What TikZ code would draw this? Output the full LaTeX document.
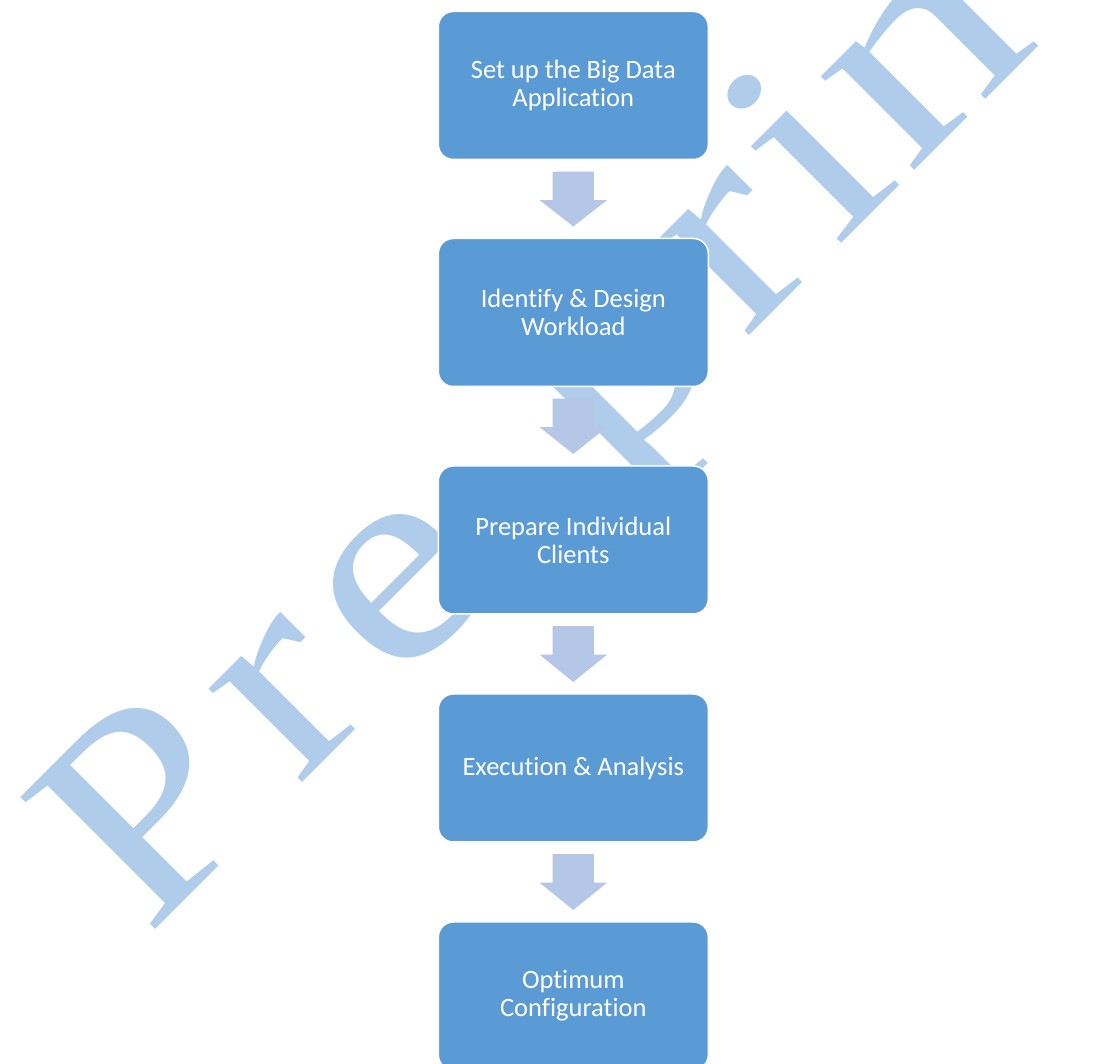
\documentclass[tikz,border=0pt]{standalone}
\usepackage{fontspec}
\setmainfont{Carlito}[Ligatures={NoCommon}]
\newfontfamily\wmfont{Liberation Serif}
\usetikzlibrary{calc}
\definecolor{boxblue}{HTML}{5B9BD5}
\definecolor{arrowblue}{HTML}{B4C7E7}
\definecolor{wmblue}{HTML}{AFCDEA}
\tikzset{
  stepbox/.style={rectangle, rounded corners=15pt, fill=boxblue, draw=white,
    line width=1.5pt, minimum width=270pt, minimum height=148pt, text=white,
    align=center, inner sep=0pt, font=\fontsize{26.5}{28}\selectfont},
  flowarrow/.style={fill=arrowblue},
  wmletter/.style={anchor=base west, inner sep=0pt, outer sep=0pt, text=wmblue,
    font=\wmfont\fontsize{288}{288}\selectfont},
}
% widened glyph for the diagonal lettering
\newcommand\wmglyph[2]{\scalebox{#1}[1]{#2}}
% block arrow from the bottom of one box to the top of the next
\newcommand\blockarrow[2]{%
  \fill[flowarrow]
    ($(#1.south)+(-20.6,-11.4)$) -- ($(#1.south)+(20.6,-11.4)$)
    -- ($(#1.south)+(20.6,-40)$) -- ($(#1.south)+(33.6,-40)$)
    -- ($(#2.north)+(0,11.3)$)
    -- ($(#1.south)+(-33.6,-40)$) -- ($(#1.south)+(-20.6,-40)$) -- cycle;}

\begin{document}
\begin{tikzpicture}[x=1pt,y=1pt]
\useasboundingbox (0,0) rectangle (1097,1064);
\fill[white] (0,0) rectangle (1097,1064);
\clip (0,0) rectangle (1097,1064);

% diagonal lettering in the background
\begin{scope}[shift={(542.5,521.5)}, rotate=45, transform shape]
  \node[wmletter] (w1) at (-558,0) {\wmglyph{1.13}{P}};
  \node[wmletter] (w2) at (-346,0) {\wmglyph{1.2}{r}};
  \node[wmletter] (w3) at (-208,0) {\wmglyph{1.2}{e}};
  \node[wmletter] (w4) at (92,0)   {\wmglyph{1.2}{p}};
  \node[wmletter] (w5) at (286,0)  {\wmglyph{1.2}{r}};
  \node[wmletter] (w6) at (416,0)  {\wmglyph{1.2}{i}};
  \node[wmletter] (w7) at (517,0)  {\wmglyph{1.32}{n}};
  \node[wmletter] (w8) at (738,0)  {\wmglyph{1.2}{t}};
\end{scope}

% process steps
\node[stepbox] (s1) at (573.3,978.5) {Set up the Big Data\\Application};
\node[stepbox] (s2) at (573.3,751.5) {Identify \& Design\\Workload};
\node[stepbox] (s3) at (573.3,524)   {Prepare Individual\\Clients};
\node[stepbox] (s4) at (573.3,296)   {Execution \& Analysis};
\node[stepbox] (s5) at (573.3,68)    {Optimum\\Configuration};

% connecting arrows
\blockarrow{s1}{s2}
\blockarrow{s2}{s3}
\blockarrow{s3}{s4}
\blockarrow{s4}{s5}
\end{tikzpicture}
\end{document}
